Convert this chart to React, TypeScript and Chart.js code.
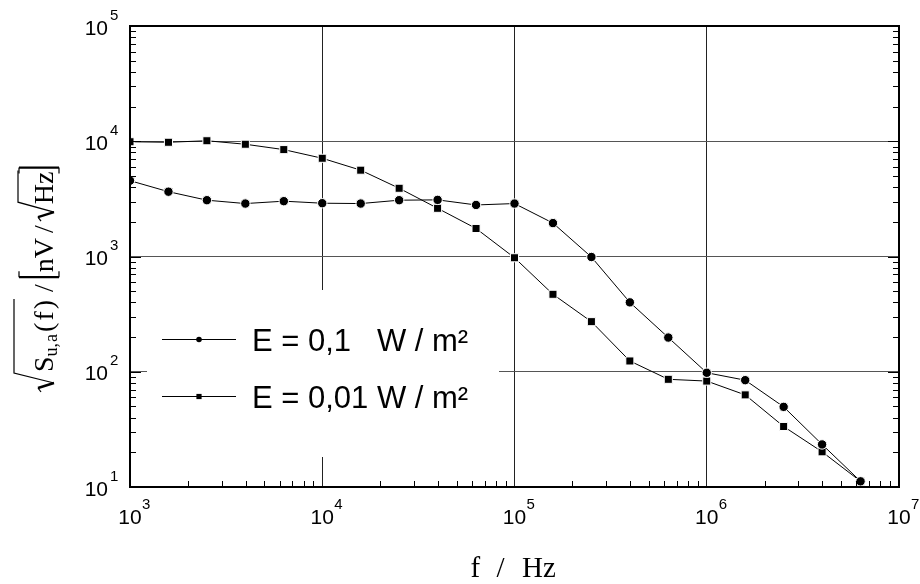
import { useEffect, useRef } from 'react';
import { Chart, registerables } from 'chart.js';

Chart.register(...registerables);

// ---- data ----
const freq = [1000, 1585, 2512, 3981, 6310, 10000, 15850, 25120, 39810, 63100, 100000, 158500, 251200, 398100, 631000, 1000000, 1585000, 2512000, 3981000, 6310000];
const seriesE01 = [4550, 3650, 3080, 2880, 3020, 2900, 2880, 3080, 3100, 2800, 2880, 1950, 990, 400, 198, 98, 84.5, 49.6, 23.4, 11.2];
const seriesE001 = [9900, 9800, 10100, 9420, 8460, 7120, 5610, 3910, 2620, 1750, 975, 470, 272, 124, 86, 83, 63, 33.5, 20.2, 11.2];
const legendLabels = ['E = 0,1   W / m²', 'E = 0,01 W / m²'];
const xTickValues = [1e3, 1e4, 1e5, 1e6, 1e7];
const xTickExps = ['3', '4', '5', '6', '7'];
const yTickValues = [1e1, 1e2, 1e3, 1e4, 1e5];
const yTickExps = ['1', '2', '3', '4', '5'];

const SANS = '"Liberation Sans", Arial, sans-serif';
const SERIF = '"Liberation Serif", "Times New Roman", serif';

function drawMarker(ctx: CanvasRenderingContext2D, kind: string, x: number, y: number, r: number) {
  ctx.beginPath();
  if (kind === 'circle') ctx.arc(x, y, r, 0, Math.PI * 2);
  else ctx.rect(x - r, y - r, 2 * r, 2 * r);
  ctx.fill();
}

function drawBracket(ctx: CanvasRenderingContext2D, x: number, open: boolean) {
  const s = open ? 6 : -6;
  ctx.lineWidth = 2.2;
  ctx.beginPath();
  ctx.moveTo(x, -34);
  ctx.lineTo(x, 6);
  ctx.stroke();
  ctx.lineWidth = 1.2;
  ctx.beginPath();
  ctx.moveTo(x, -34);
  ctx.lineTo(x + s, -34);
  ctx.moveTo(x, 6);
  ctx.lineTo(x + s, 6);
  ctx.stroke();
}

function drawRadical(ctx: CanvasRenderingContext2D, x: number, top: number, end: number) {
  ctx.lineWidth = 1.2;
  ctx.beginPath();
  ctx.moveTo(x, -12);
  ctx.lineTo(x + 4, -15);
  ctx.stroke();
  ctx.lineWidth = 2.4;
  ctx.beginPath();
  ctx.moveTo(x + 4, -15);
  ctx.lineTo(x + 9, 1);
  ctx.stroke();
  ctx.lineWidth = 1.2;
  ctx.beginPath();
  ctx.moveTo(x + 9, 1);
  ctx.lineTo(x + 19, top);
  ctx.lineTo(end, top);
  ctx.stroke();
}

const decorPlugin = {
  id: 'decor',
  beforeDatasetsDraw(chart: any) {
    const { ctx } = chart;
    ctx.save();
    ctx.fillStyle = '#fff';
    ctx.fillRect(147, 290, 352, 167);
    ctx.restore();
  },
  afterDatasetsDraw(chart: any) {
    const { ctx, chartArea: a } = chart;
    const xs = chart.scales.x;
    const ys = chart.scales.y;
    ctx.save();
    ctx.strokeStyle = '#000';
    ctx.lineWidth = 1;
    // minor ticks
    ctx.beginPath();
    for (let k = 0; k < yTickValues.length - 1; k++) {
      for (let m = 2; m <= 9; m++) {
        const py = Math.round(ys.getPixelForValue(yTickValues[k] * m)) + 0.5;
        ctx.moveTo(a.left, py); ctx.lineTo(a.left + 6, py);
        ctx.moveTo(a.right, py); ctx.lineTo(a.right - 6, py);
      }
      const pyM = Math.round(ys.getPixelForValue(yTickValues[k])) + 0.5;
      ctx.moveTo(a.left, pyM); ctx.lineTo(a.left + 11, pyM);
      ctx.moveTo(a.right, pyM); ctx.lineTo(a.right - 11, pyM);
    }
    for (let k = 0; k < xTickValues.length - 1; k++) {
      for (let m = 2; m <= 9; m++) {
        const px = Math.round(xs.getPixelForValue(xTickValues[k] * m)) + 0.5;
        ctx.moveTo(px, a.bottom); ctx.lineTo(px, a.bottom - 6);
      }
    }
    ctx.stroke();
    // frame
    ctx.lineWidth = 2;
    ctx.strokeRect(a.left, a.top, a.right - a.left, a.bottom - a.top);

    // tick labels
    ctx.fillStyle = '#000';
    ctx.textBaseline = 'alphabetic';
    yTickValues.forEach((v, i) => {
      const py = ys.getPixelForValue(v);
      ctx.font = `21px ${SANS}`;
      ctx.textAlign = 'right';
      ctx.fillText('10', a.left - 22, py + 8.5);
      ctx.font = `15px ${SANS}`;
      ctx.textAlign = 'left';
      ctx.fillText(yTickExps[i], a.left - 20, py - 6.5);
    });
    xTickValues.forEach((v, i) => {
      const px = xs.getPixelForValue(v);
      ctx.font = `21px ${SANS}`;
      ctx.textAlign = 'center';
      ctx.fillText('10', px, a.bottom + 37);
      ctx.font = `15px ${SANS}`;
      ctx.textAlign = 'left';
      ctx.fillText(xTickExps[i], px + 12, a.bottom + 21.5);
    });

    // legend
    const rows = [
      { y: 339.5, kind: 'circle', r: 2.8 },
      { y: 396.5, kind: 'rect', r: 2.6 },
    ];
    rows.forEach((row, i) => {
      ctx.lineWidth = 1;
      ctx.beginPath();
      ctx.moveTo(162, row.y); ctx.lineTo(236, row.y);
      ctx.stroke();
      drawMarker(ctx, row.kind, 199, row.y, row.r);
      ctx.font = `31px ${SANS}`;
      ctx.textAlign = 'left';
      ctx.fillText(legendLabels[i], 252, row.y + 11.5);
    });

    // x title
    const cx = (a.left + a.right) / 2;
    ctx.font = `29px ${SERIF}`;
    ctx.textAlign = 'left';
    ctx.fillText('f', cx - 44, 577);
    ctx.fillText('/', cx - 18, 577);
    ctx.fillText('Hz', cx + 7.5, 577);

    // y title (rotated)
    ctx.translate(53, 392);
    ctx.rotate(-Math.PI / 2);
    const big = `28px ${SERIF}`;
    const small = `18px ${SERIF}`;
    const w = (t: string) => ctx.measureText(t).width;
    let c = 20;
    ctx.font = big;
    ctx.fillText('S', c, 0); c += w('S');
    ctx.font = small;
    ctx.fillText('u', c, 4); c += w('u');
    ctx.fillText(',', c, 4); c += w(',') + 1;
    ctx.fillText('a', c, 4); c += w('a') + 2;
    ctx.font = big;
    ctx.fillText('(', c, 0); c += w('(') + 2;
    ctx.fillText('f', c, 0); c += w('f') + 2;
    ctx.fillText(')', c, 0); c += w(')');
    drawRadical(ctx, 0, -39, c + 1);
    c += 8;
    ctx.font = big;
    ctx.fillText('/', c, 0); c += w('/') + 7;
    drawBracket(ctx, c, true); c += 5;
    ctx.fillText('nV', c, 0); c += w('nV') + 5;
    ctx.fillText('/', c, 0); c += w('/') + 4;
    const r2 = c;
    c += 17;
    ctx.fillText('Hz', c, 0); c += w('Hz');
    drawRadical(ctx, r2, -35, c + 1);
    c += 4;
    drawBracket(ctx, c, false);
    ctx.restore();
  },
};

export default function App() {
  const ref = useRef<HTMLCanvasElement | null>(null);
  useEffect(() => {
    if (!ref.current) return;
    const chart = new Chart(ref.current, {
      type: 'line',
      data: {
        datasets: [
          {
            label: legendLabels[0],
            data: freq.map((f, i) => ({ x: f, y: seriesE01[i] })),
            borderColor: '#000',
            borderWidth: 1,
            backgroundColor: '#000',
            pointStyle: 'circle',
            pointRadius: 4.7,
            pointBackgroundColor: '#000',
            pointBorderColor: '#fff',
            pointBorderWidth: 1,
            tension: 0,
          },
          {
            label: legendLabels[1],
            data: freq.map((f, i) => ({ x: f, y: seriesE001[i] })),
            borderColor: '#000',
            borderWidth: 1,
            backgroundColor: '#000',
            pointStyle: 'rect',
            pointRadius: 5.7,
            pointBackgroundColor: '#000',
            pointBorderColor: '#fff',
            pointBorderWidth: 1,
            tension: 0,
          },
        ],
      },
      options: {
        responsive: false,
        animation: false,
        events: [],
        layout: { padding: { left: 130, right: 21, top: 26, bottom: 97 } },
        plugins: { legend: { display: false }, tooltip: { enabled: false }, title: { display: false } },
        scales: {
          x: {
            type: 'logarithmic',
            min: 1e3,
            max: 1e7,
            afterBuildTicks: (s: any) => { s.ticks = xTickValues.map((v) => ({ value: v })); },
            afterFit: (s: any) => { s.height = 0; },
            ticks: { display: false },
            grid: { color: '#222', lineWidth: 1, drawTicks: false },
            border: { display: false },
          },
          y: {
            type: 'logarithmic',
            min: 10,
            max: 1e5,
            afterBuildTicks: (s: any) => { s.ticks = yTickValues.map((v) => ({ value: v })); },
            afterFit: (s: any) => { s.width = 0; },
            ticks: { display: false },
            grid: { color: '#555', lineWidth: 1, drawTicks: false },
            border: { display: false },
          },
        },
      },
      plugins: [decorPlugin],
    } as any);
    return () => chart.destroy();
  }, []);
  return (
    <div style={{ position: 'absolute', left: 0, top: 0, width: 920, height: 584, background: '#fff' }}>
      <canvas ref={ref} width={920} height={584} style={{ display: 'block' }} />
    </div>
  );
}
